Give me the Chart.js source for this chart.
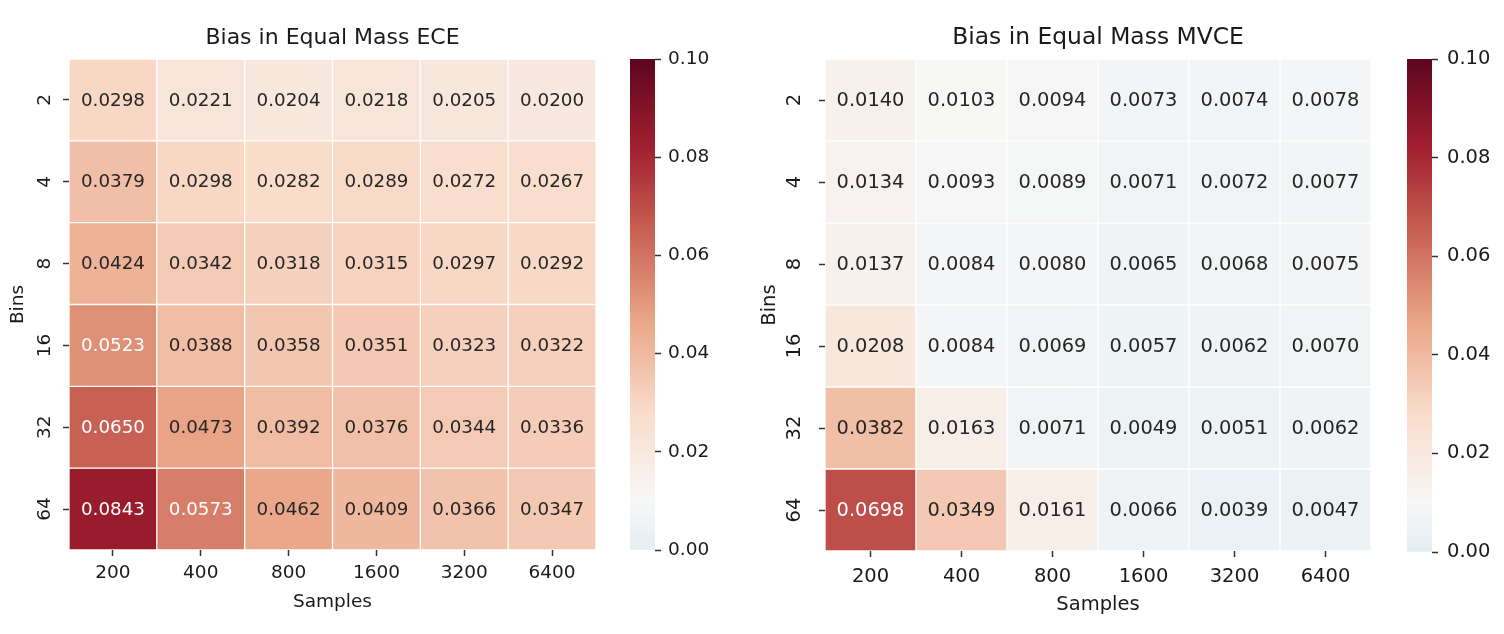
<!DOCTYPE html>
<html>
<head>
<meta charset="utf-8">
<script src="https://cdn.jsdelivr.net/npm/chart.js@4.4.1/dist/chart.umd.min.js"></script>
<style>
  html, body { margin: 0; padding: 0; background: #fff; }
  body { width: 1504px; height: 634px; position: relative; overflow: hidden; }
  .box { position: absolute; top: 0; height: 634px; }
</style>
</head>
<body>
<div class="box" style="left:0;width:620px"><canvas id="eceChart"></canvas></div>
<div class="box" style="left:630px;width:110px"><canvas id="eceBar"></canvas></div>
<div class="box" style="left:750px;width:650px"><canvas id="mvceChart"></canvas></div>
<div class="box" style="left:1407px;width:97px"><canvas id="mvceBar"></canvas></div>
<script>
// data (rows = bins, columns = samples)
const samples = ['200', '400', '800', '1600', '3200', '6400'];
const bins = ['2', '4', '8', '16', '32', '64'];

const eceBias = [
    [0.0298, 0.0221, 0.0204, 0.0218, 0.0205, 0.0200],
    [0.0379, 0.0298, 0.0282, 0.0289, 0.0272, 0.0267],
    [0.0424, 0.0342, 0.0318, 0.0315, 0.0297, 0.0292],
    [0.0523, 0.0388, 0.0358, 0.0351, 0.0323, 0.0322],
    [0.0650, 0.0473, 0.0392, 0.0376, 0.0344, 0.0336],
    [0.0843, 0.0573, 0.0462, 0.0409, 0.0366, 0.0347]
];
const mvceBias = [
    [0.0140, 0.0103, 0.0094, 0.0073, 0.0074, 0.0078],
    [0.0134, 0.0093, 0.0089, 0.0071, 0.0072, 0.0077],
    [0.0137, 0.0084, 0.0080, 0.0065, 0.0068, 0.0075],
    [0.0208, 0.0084, 0.0069, 0.0057, 0.0062, 0.0070],
    [0.0382, 0.0163, 0.0071, 0.0049, 0.0051, 0.0062],
    [0.0698, 0.0349, 0.0161, 0.0066, 0.0039, 0.0047]
];
const cbarTicks = [0.00, 0.02, 0.04, 0.06, 0.08, 0.10];

const VMIN = 0, VMAX = 0.1, CENTER = 0.01;
const FONT = 'DejaVu Sans';
const INK = '#1a1a1a';
const MUTE = 0.15;   // the picture's colours are a little washed out

// matplotlib RdBu_r
const RDBU_R = ['#053061', '#2166ac', '#4393c3', '#92c5de', '#d1e5f0', '#f7f7f7',
                '#fddbc7', '#f4a582', '#d6604d', '#b2182b', '#67001f'];

function hexRgb(h) {
    return [1, 3, 5].map(i => parseInt(h.substr(i, 2), 16));
}

// seaborn-style centred colormap
function cmap(v) {
    const vr = Math.max(VMAX - CENTER, CENTER - VMIN);
    let t = (v - (CENTER - vr)) / (2 * vr);
    t = Math.min(1, Math.max(0, t));
    const pos = t * 10;
    const i = Math.min(9, Math.floor(pos));
    const f = pos - i;
    const a = hexRgb(RDBU_R[i]), b = hexRgb(RDBU_R[i + 1]);
    const c = a.map((x, k) => x + (b[k] - x) * f);
    const grey = 0.299 * c[0] + 0.587 * c[1] + 0.114 * c[2];
    return c.map(x => x * (1 - MUTE) + grey * MUTE);
}

function rgbStr(c) {
    return `rgb(${Math.round(c[0])}, ${Math.round(c[1])}, ${Math.round(c[2])})`;
}

function textColor(c) {
    const lin = c.map(x => {
        x /= 255;
        return x <= 0.03928 ? x / 12.92 : Math.pow((x + 0.055) / 1.055, 2.4);
    });
    const lum = 0.2126 * lin[0] + 0.7152 * lin[1] + 0.0722 * lin[2];
    return lum > 0.408 ? '#262626' : '#ffffff';
}

const cellLabels = {
    id: 'cellLabels',
    afterDatasetsDraw(chart, args, opts) {
        const c = chart.ctx;
        c.save();
        c.font = `${opts.size}px "${FONT}"`;
        c.textAlign = 'center';
        c.textBaseline = 'middle';
        chart.data.datasets.forEach((ds, r) => {
            chart.getDatasetMeta(r).data.forEach((bar, j) => {
                const v = ds.values[j];
                c.fillStyle = textColor(cmap(v));
                c.fillText(v.toFixed(4), bar.x, (bar.y + bar.base) / 2 + 1);
            });
        });
        c.restore();
    }
};

function tickGrid() {
    return {
        offset: false,
        drawOnChartArea: false,
        drawTicks: true,
        tickLength: 6,
        tickWidth: 1.5,
        tickColor: '#333'
    };
}

function heatmap(id, title, values, cfg) {
    const ctx = document.getElementById(id).getContext('2d');
    const font = { family: FONT, size: cfg.fontSize };

    const datasets = values.map((row, r) => ({
        label: bins[r],
        data: row.map(() => 1),
        values: row,
        backgroundColor: row.map(v => rgbStr(cmap(v))),
        borderColor: '#ffffff',
        borderWidth: 1,
        borderSkipped: false,
        barPercentage: 1,
        categoryPercentage: 1
    }));

    return new Chart(ctx, {
        type: 'bar',
        data: { labels: samples, datasets: datasets },
        plugins: [cellLabels],
        options: {
            responsive: true,
            maintainAspectRatio: false,
            animation: false,
            events: [],
            layout: { padding: { left: 0, right: cfg.padRight, top: 0, bottom: 0 } },
            plugins: {
                legend: { display: false },
                tooltip: { enabled: false },
                title: {
                    display: true,
                    text: title,
                    fullSize: false,
                    color: INK,
                    font: { family: FONT, size: cfg.titleSize, weight: 'normal' },
                    padding: { top: cfg.titleTop, bottom: cfg.titleBottom }
                },
                cellLabels: { size: cfg.cellSize }
            },
            scales: {
                x: {
                    stacked: true,
                    grid: tickGrid(),
                    border: { display: false },
                    ticks: { color: INK, font: font, padding: cfg.xPad, maxRotation: 0 },
                    title: {
                        display: true, text: 'Samples', color: INK, font: font,
                        padding: { top: 0, bottom: cfg.xTitlePad }
                    },
                    afterFit: s => { s.height = cfg.xHeight; }
                },
                y: {
                    stacked: true,
                    reverse: true,
                    min: 0,
                    max: bins.length,
                    afterBuildTicks: s => { s.ticks = bins.map((_, i) => ({ value: i + 0.5 })); },
                    grid: tickGrid(),
                    border: { display: false },
                    ticks: {
                        callback: v => bins[Math.floor(v)],
                        minRotation: 90,
                        maxRotation: 90,
                        crossAlign: 'center',
                        padding: cfg.yPad,
                        color: INK,
                        font: font
                    },
                    title: {
                        display: true, text: 'Bins', color: INK, font: font,
                        padding: { top: cfg.yTitlePad, bottom: 0 }
                    },
                    afterFit: s => { s.width = cfg.yWidth; }
                }
            }
        }
    });
}

function colorbar(id, cfg) {
    const ctx = document.getElementById(id).getContext('2d');
    return new Chart(ctx, {
        type: 'bar',
        data: {
            labels: [''],
            datasets: [{
                data: [[VMIN, VMAX]],
                backgroundColor: c => {
                    const area = c.chart.chartArea;
                    if (!area) return null;
                    const g = c.chart.ctx.createLinearGradient(0, area.bottom, 0, area.top);
                    for (let k = 0; k <= 50; k++) {
                        g.addColorStop(k / 50, rgbStr(cmap(VMIN + (VMAX - VMIN) * k / 50)));
                    }
                    return g;
                },
                borderWidth: 0,
                barPercentage: 1,
                categoryPercentage: 1
            }]
        },
        options: {
            responsive: true,
            maintainAspectRatio: false,
            animation: false,
            events: [],
            layout: { padding: { top: cfg.top, bottom: 634 - cfg.bottom, left: 0, right: 0 } },
            plugins: { legend: { display: false }, tooltip: { enabled: false } },
            scales: {
                x: { display: false },
                y: {
                    position: 'right',
                    min: VMIN,
                    max: VMAX,
                    afterBuildTicks: s => { s.ticks = cbarTicks.map(v => ({ value: v })); },
                    grid: tickGrid(),
                    border: { display: false },
                    ticks: {
                        callback: v => v.toFixed(2),
                        padding: cfg.pad,
                        color: INK,
                        font: { family: FONT, size: cfg.fontSize }
                    },
                    afterFit: s => { s.width = cfg.axisWidth; }
                }
            }
        }
    });
}

heatmap('eceChart', 'Bias in Equal Mass ECE', eceBias, {
    fontSize: 18.5, cellSize: 18.3, titleSize: 22, titleTop: 25, titleBottom: 7.6,
    padRight: 24, xHeight: 84, xPad: 6, xTitlePad: 21,
    yWidth: 69, yPad: 6, yTitlePad: 7
});
colorbar('eceBar', { top: 59, bottom: 550, axisWidth: 85, pad: 7, fontSize: 18.5 });

heatmap('mvceChart', 'Bias in Equal Mass MVCE', mvceBias, {
    fontSize: 19.5, cellSize: 19.4, titleSize: 23.4, titleTop: 24, titleBottom: 7,
    padRight: 29, xHeight: 83, xPad: 8, xTitlePad: 17,
    yWidth: 75, yPad: 11.5, yTitlePad: 8
});
colorbar('mvceBar', { top: 59, bottom: 552, axisWidth: 72, pad: 9, fontSize: 19.5 });
</script>
</body>
</html>
